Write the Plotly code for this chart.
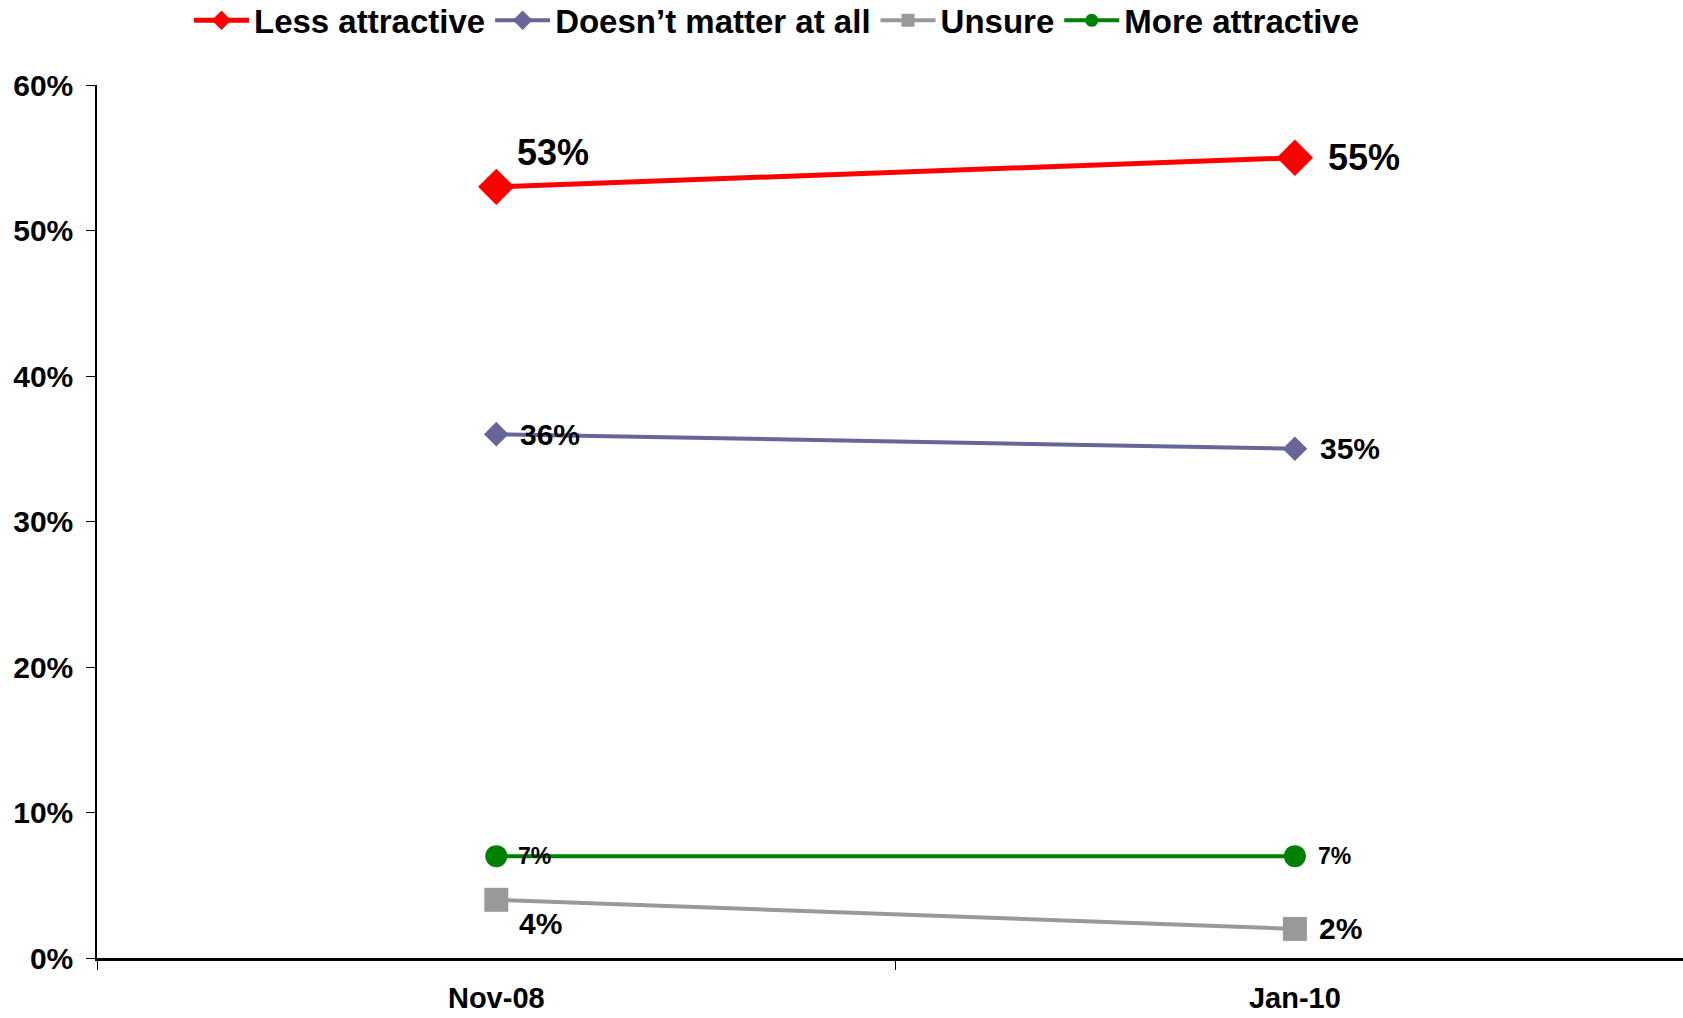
import plotly.graph_objects as go

categories = ["Nov-08", "Jan-10"]
less_attractive = [53, 55]
doesnt_matter = [36, 35]
unsure = [4, 2]
more_attractive = [7, 7]
y_ticks = [0, 10, 20, 30, 40, 50, 60]

x_idx = list(range(len(categories)))
FONT = "Liberation Sans, Arial, sans-serif"

series = [
    # name, values, color, line width, symbol, marker size, legend marker size,
    # label font size, label offsets (x, y) per point
    ("Less attractive", less_attractive, "#FF0000", 5, "diamond", 28, 15, 36,
     [(19, 34), (31, 0)]),
    ("Doesn\u2019t matter at all", doesnt_matter, "#666699", 4, "diamond", 19, 15, 30,
     [(22, 0), (23, 0)]),
    ("Unsure", unsure, "#999999", 4, "square", 24, 13, 30,
     [(21, -24), (22, 0)]),
    ("More attractive", more_attractive, "#008000", 4, "circle", 22, 13, 23,
     [(20, 0), (21, 0)]),
]

fig = go.Figure()
annotations = []
for name, vals, color, lw, sym, ms, lms, fs, offs in series:
    fig.add_trace(go.Scatter(
        x=x_idx, y=vals, name=name, mode="lines+markers", showlegend=False,
        line=dict(color=color, width=lw),
        marker=dict(symbol=sym, size=ms, color=color),
        cliponaxis=False,
    ))
    # legend-only entry with smaller markers, as in the reference legend
    fig.add_trace(go.Scatter(
        x=[None], y=[None], name=name, mode="lines+markers", showlegend=True,
        line=dict(color=color, width=lw),
        marker=dict(symbol=sym, size=lms, color=color),
    ))
    for xi, v, (dx, dy) in zip(x_idx, vals, offs):
        annotations.append(dict(
            x=xi, y=v, xref="x", yref="y", text=f"{v}%", showarrow=False,
            xanchor="left", yanchor="middle", xshift=dx, yshift=dy,
            font=dict(family=FONT, size=fs, color="black", weight="bold"),
        ))

fig.update_layout(
    width=1683, height=1018,
    margin=dict(l=97, r=0, t=85, b=60, autoexpand=False),
    paper_bgcolor="white", plot_bgcolor="white",
    font=dict(family=FONT, color="black", weight="bold"),
    showlegend=True,
    annotations=annotations,
    legend=dict(
        orientation="h", x=0.058, xanchor="left", y=0.98, yanchor="middle",
        yref="container",
        font=dict(family=FONT, size=33, color="black", weight="bold"),
        itemsizing="trace", itemwidth=55, bgcolor="rgba(0,0,0,0)", tracegroupgap=0,
    ),
    xaxis=dict(
        range=[-0.5, 1.486], tickmode="array", tickvals=x_idx, ticktext=categories,
        ticks="", showgrid=False, zeroline=False, automargin=False,
        showline=True, linecolor="black", linewidth=2.5,
        tickfont=dict(family=FONT, size=29, color="black", weight="bold"),
        ticklabelstandoff=12,
        minor=dict(tick0=-0.5, dtick=1, ticks="outside", ticklen=9, tickwidth=1,
                   tickcolor="black", showgrid=False),
    ),
    yaxis=dict(
        range=[0, 60], tickmode="array", tickvals=y_ticks,
        ticktext=[f"{v}%" for v in y_ticks],
        ticks="outside", ticklen=9, tickwidth=1, tickcolor="black",
        showgrid=False, zeroline=False, automargin=False,
        showline=True, linecolor="black", linewidth=1.5,
        tickfont=dict(family=FONT, size=30, color="black", weight="bold"),
        ticklabelstandoff=7,
    ),
)

fig.write_html(
    "out.html",
    config={"displayModeBar": False},
    post_script="document.body.style.margin='0';document.body.style.overflow='hidden';",
)
